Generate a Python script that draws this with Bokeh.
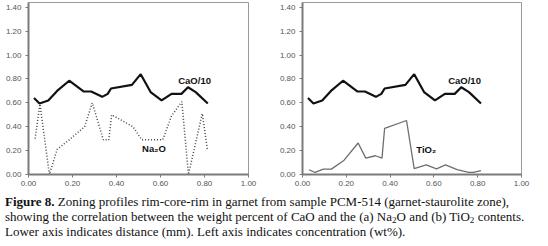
from bokeh.plotting import figure
from bokeh.models import Range1d, FixedTicker, NumeralTickFormatter, Div
from bokeh.layouts import row, column
from bokeh.embed import file_html
from bokeh.resources import INLINE
from bokeh.core.properties import value

# ---- data ----
x_ticks = [0.0, 0.2, 0.4, 0.6, 0.8, 1.0]
y_ticks = [0.0, 0.2, 0.4, 0.6, 0.8, 1.0, 1.2, 1.4]

cao_x = [0.025, 0.05, 0.09, 0.13, 0.185, 0.25, 0.285, 0.335, 0.36, 0.375, 0.47, 0.51,
         0.555, 0.605, 0.65, 0.695, 0.725, 0.76, 0.815]
cao_y = [0.64, 0.595, 0.62, 0.70, 0.785, 0.695, 0.695, 0.65, 0.675, 0.72, 0.75, 0.84,
         0.69, 0.62, 0.675, 0.675, 0.73, 0.69, 0.595]

na2o_x = [0.03, 0.052, 0.095, 0.13, 0.185, 0.255, 0.29, 0.34, 0.365, 0.378, 0.475, 0.515,
          0.61, 0.65, 0.697, 0.727, 0.79, 0.813]
na2o_y = [0.30, 0.59, 0.0, 0.21, 0.29, 0.40, 0.60, 0.29, 0.29, 0.50, 0.40, 0.29,
          0.29, 0.49, 0.61, 0.0, 0.51, 0.21]

tio2_x = [0.03, 0.057, 0.095, 0.132, 0.19, 0.254, 0.289, 0.333, 0.363, 0.375, 0.475, 0.51,
          0.565, 0.612, 0.653, 0.706, 0.759, 0.78, 0.815]
tio2_y = [0.04, 0.017, 0.045, 0.045, 0.12, 0.264, 0.137, 0.157, 0.137, 0.387, 0.452, 0.05,
          0.08, 0.047, 0.08, 0.04, 0.017, 0.017, 0.032]

label_cao = "CaO/10"
label_na2o = "Na\u2082O"
label_tio2 = "TiO\u2082"

SUB = "<sub style='font-size:70%;line-height:0;vertical-align:-0.2em'>2</sub>"
caption_html = (
    "<b>Figure 8.</b> Zoning profiles rim-core-rim in garnet from sample PCM-514 "
    "(garnet-staurolite zone),<br>showing the correlation between the weight percent of CaO "
    "and the (a) Na" + SUB + "O and (b) TiO" + SUB + " contents.<br>"
    "Lower axis indicates distance (mm). Left axis indicates concentration (wt%)."
)

FONT = "Liberation Sans"


def make_panel(left_border, right_border, frame_w):
    p = figure(output_backend="svg", toolbar_location=None,
               frame_width=frame_w, frame_height=172,
               min_border_left=left_border, min_border_right=right_border,
               min_border_top=2, min_border_bottom=16,
               x_range=Range1d(0, 1.0), y_range=Range1d(0, 1.44),
               background_fill_color="white", border_fill_color="white",
               outline_line_color="#9a9a9a", outline_line_width=1)
    p.xgrid.visible = False
    p.ygrid.visible = False
    for ax, ticks in ((p.xaxis[0], x_ticks), (p.yaxis[0], y_ticks)):
        ax.ticker = FixedTicker(ticks=ticks)
        ax.formatter = NumeralTickFormatter(format="0.00")
        ax.axis_line_color = "#7a7a7a"
        ax.axis_line_width = 2
        ax.major_tick_line_color = "#7a7a7a"
        ax.major_tick_out = 3
        ax.major_tick_in = 0
        ax.minor_tick_line_color = None
        ax.major_label_text_font = FONT
        ax.major_label_text_font_size = "8px"
        ax.major_label_text_color = "#555555"
    p.xaxis[0].major_label_standoff = 3
    p.yaxis[0].major_label_standoff = 4
    return p


p1 = make_panel(28, 22, 220)
p1.line(cao_x, cao_y, line_color="#111111", line_width=2.2)
p1.line(na2o_x, na2o_y, line_color="#444444", line_width=1.5, line_dash="1 2")
p1.text(x=[0.755], y=[0.785], text=[label_cao], text_font=value(FONT),
        text_font_size="9.5px", text_font_style="bold", text_color="#111111",
        text_align="center", text_baseline="middle")
p1.text(x=[0.57], y=[0.215], text=[label_na2o], text_font=value(FONT),
        text_font_size="9.5px", text_font_style="bold", text_color="#111111",
        text_align="center", text_baseline="middle")

p2 = make_panel(32, 27, 219)
p2.line(cao_x, cao_y, line_color="#111111", line_width=2.2)
p2.line(tio2_x, tio2_y, line_color="#6e6e6e", line_width=1.3)
p2.text(x=[0.74], y=[0.785], text=[label_cao], text_font=value(FONT),
        text_font_size="9.5px", text_font_style="bold", text_color="#111111",
        text_align="center", text_baseline="middle")
p2.text(x=[0.565], y=[0.21], text=[label_tio2], text_font=value(FONT),
        text_font_size="9.5px", text_font_style="bold", text_color="#111111",
        text_align="center", text_baseline="middle")

caption = Div(text=caption_html, width=548, height=56, margin=(0, 0, 0, 0),
              styles={"font-family": "'Liberation Serif', 'Times New Roman', serif",
                      "font-size": "13px", "line-height": "15px", "color": "#111",
                      "white-space": "nowrap", "padding-left": "5px", "padding-top": "4px"})

layout = column(row(p1, p2, spacing=0), caption, spacing=0)

open("out.html", "w").write(file_html(layout, INLINE))
